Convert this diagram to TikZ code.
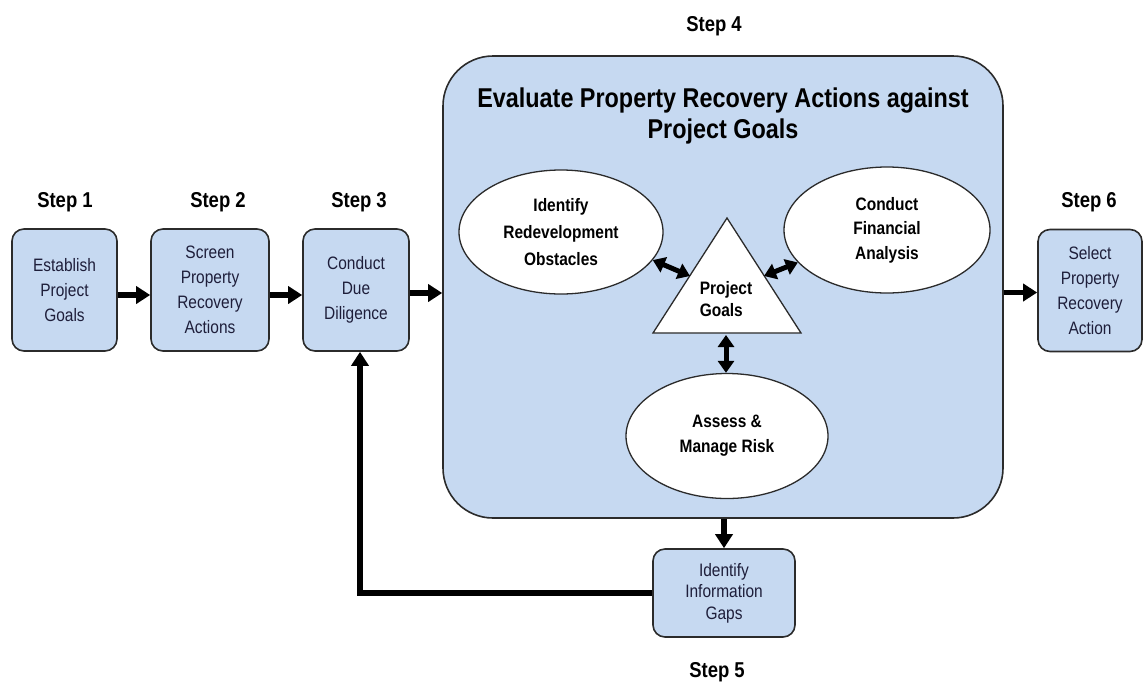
\documentclass[tikz,border=0pt]{standalone}
\usepackage{fontspec}
\setmainfont[FakeStretch=0.86]{Liberation Sans}
\usetikzlibrary{arrows.meta,shapes.geometric,calc}
\definecolor{boxfill}{HTML}{C6D9F1}
\definecolor{edge}{HTML}{2B2B2B}
\definecolor{boxtext}{HTML}{1E1E3A}
\begin{document}
\begin{tikzpicture}[x=1pt,y=-1pt,
  stepbox/.style={draw=edge, line width=1.6pt, fill=boxfill, rounded corners=12pt,
    minimum width=105pt, minimum height=122pt, align=center, text=boxtext,
    font=\fontsize{18}{25}\selectfont, inner sep=0pt},
  steplabel/.style={font=\fontsize{21.5}{24}\selectfont\bfseries, inner sep=0pt, anchor=base},
  oval/.style={ellipse, draw=edge, line width=1.3pt, fill=white, minimum width=204pt,
    minimum height=124pt, align=center, inner sep=0pt},
  flow/.style={line width=5.5pt, -{Triangle[length=14pt,width=17pt]}},
  dbl/.style={line width=5pt, {Triangle[length=12pt,width=16pt]}-{Triangle[length=12pt,width=16pt]}}
]
\useasboundingbox (0,0) rectangle (1143,681);

% step labels
\node[steplabel] (s1) at (65,207) {Step 1};
\node[steplabel] (s2) at (218,207) {Step 2};
\node[steplabel] (s3) at (359,207) {Step 3};
\node[steplabel] (s4) at (714,31) {Step 4};
\node[steplabel] (s5) at (717,677) {Step 5};
\node[steplabel] (s6) at (1089,207) {Step 6};

% boxes
\node[stepbox] (goals) at (64.5,290) {Establish\\Project\\Goals};
\node[stepbox, minimum width=118pt] (screen) at (210,290) {Screen\\Property\\Recovery\\Actions};
\node[stepbox, minimum width=106pt] (dd) at (356,290) {Conduct\\Due\\Diligence};
\node[draw=edge, line width=1.6pt, fill=boxfill, rounded corners=50pt,
  minimum width=560pt, minimum height=462pt, inner sep=0pt] (eval) at (723,287) {};
\node[stepbox, minimum width=104pt] (select) at (1090,290.5) {Select\\Property\\Recovery\\Action};
\node[stepbox, minimum width=142pt, minimum height=88pt,
  font=\fontsize{18}{21.5}\selectfont] (gaps) at (724,593) {Identify\\Information\\Gaps};

% title
\node[font=\fontsize{27.2}{31}\selectfont\bfseries, align=center, inner sep=0pt] (title)
  at (723,116) {Evaluate Property Recovery Actions against\\Project Goals};

% ellipses
\node[oval, font=\fontsize{18}{27}\selectfont\bfseries] (obst) at (561,232)
  {Identify\\Redevelopment\\Obstacles};
\node[oval, minimum width=206pt, minimum height=126pt, font=\fontsize{18}{24.5}\selectfont\bfseries]
  (fin) at (887,230) {Conduct\\Financial\\Analysis};
\node[oval, minimum width=202pt, minimum height=125pt, font=\fontsize{18}{25}\selectfont\bfseries]
  (risk) at (727,436) {Assess \&\\Manage Risk};

% triangle
\coordinate (apex) at (727,218);
\coordinate (br) at (801,333);
\coordinate (bl) at (653,333);
\draw[draw=edge, line width=1.3pt, fill=white] (apex) -- (br) -- (bl) -- cycle;
\node[font=\fontsize{18}{22}\selectfont\bfseries, align=left, inner sep=0pt] (pg) at (726,299) {Project\\Goals};
\coordinate (tl) at (690,276);
\coordinate (tr) at (764,276);
\coordinate (tb) at (726,335);

% double arrows
\draw[dbl] (obst.-17) -- (tl);
\draw[dbl] (tr) -- (fin.-160);
\draw[dbl] (tb) -- (risk.north -| tb);

% flow arrows
\draw[flow] ($(goals.east)+(0,5)$) -- ($(screen.west)+(0,5)$);
\draw[flow] ($(screen.east)+(0,5)$) -- ($(dd.west)+(0,5)$);
\draw[flow] ($(dd.east)+(0,3)$) -- ($(dd.east -| eval.west)+(0,3)$);
\draw[flow] ($(select.west -| eval.east)+(0,2)$) -- ($(select.west)+(0,2)$);
\draw[flow] (eval.south -| gaps.north) -- (gaps.north);
\draw[flow] (gaps.west) -| ($(dd.south)+(4,0)$);
\end{tikzpicture}
\end{document}
